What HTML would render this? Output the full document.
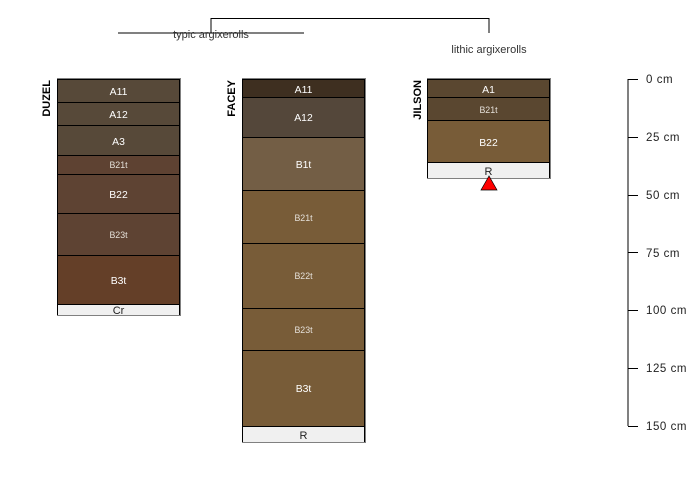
<!DOCTYPE html>
<html>
<head>
<meta charset="utf-8">
<style>
html,body{margin:0;padding:0;background:#fff;width:700px;height:500px;overflow:hidden}
svg{display:block}
text{font-family:"Liberation Sans",sans-serif}
.l{font-size:10.4px;fill:#fff;text-anchor:middle}
.s{font-size:8.8px;fill:#e4dfd8;text-anchor:middle}
.d{font-size:11px;fill:#222;text-anchor:middle}
.n{font-size:11px;font-weight:bold;fill:#000;text-anchor:end}
.a{font-size:11.5px;fill:#222;letter-spacing:.55px}
.t{font-size:11px;fill:#333;text-anchor:middle}
rect{stroke:#000;stroke-width:1;shape-rendering:crispEdges}
.g{fill:none;stroke:#808080;stroke-width:1;shape-rendering:crispEdges}
</style>
</head>
<body>
<svg width="700" height="500" viewBox="0 0 700 500" xmlns="http://www.w3.org/2000/svg">
<rect width="700" height="500" style="fill:#fff;stroke:none"/>

<!-- dendrogram -->
<path d="M211 33V18.5H489V33" fill="none" stroke="#000" stroke-width="1"/>
<path d="M118 33H304" fill="none" stroke="#000" stroke-width="1"/>
<text class="t" x="211" y="38">typic argixerolls</text>
<text class="t" x="489" y="53">lithic argixerolls</text>

<!-- DUZEL -->
<rect x="57.5" y="79.5" width="122" height="23" fill="#574939"/>
<rect x="57.5" y="102.5" width="122" height="23" fill="#574939"/>
<rect x="57.5" y="125.5" width="122" height="30" fill="#574939"/>
<rect x="57.5" y="155.5" width="122" height="19" fill="#5e4232"/>
<rect x="57.5" y="174.5" width="122" height="39" fill="#5e4333"/>
<rect x="57.5" y="213.5" width="122" height="42" fill="#5e4333"/>
<rect x="57.5" y="255.5" width="122" height="49" fill="#643f28"/>
<rect x="57.5" y="304.5" width="122" height="11" fill="#f0f0f0"/>
<path class="g" d="M57 78.5H180.5V315.5H57"/>
<text class="l" x="118.5" y="95">A11</text>
<text class="l" x="118.5" y="118">A12</text>
<text class="l" x="118.5" y="145">A3</text>
<text class="s" x="118.5" y="168">B21t</text>
<text class="l" x="118.5" y="198">B22</text>
<text class="s" x="118.5" y="238">B23t</text>
<text class="l" x="118.5" y="284">B3t</text>
<text class="d" x="118.5" y="314">Cr</text>
<text class="n" transform="translate(50,80) rotate(-90)">DUZEL</text>

<!-- FACEY -->
<rect x="242.5" y="79.5" width="122" height="18" fill="#3e2f20"/>
<rect x="242.5" y="97.5" width="122" height="40" fill="#54473a"/>
<rect x="242.5" y="137.5" width="122" height="53" fill="#735e45"/>
<rect x="242.5" y="190.5" width="122" height="53" fill="#785c38"/>
<rect x="242.5" y="243.5" width="122" height="65" fill="#785c38"/>
<rect x="242.5" y="308.5" width="122" height="42" fill="#785c38"/>
<rect x="242.5" y="350.5" width="122" height="76" fill="#785c38"/>
<rect x="242.5" y="426.5" width="122" height="16" fill="#f0f0f0"/>
<path class="g" d="M242 78.5H365.5V442.5H242"/>
<text class="l" x="303.5" y="93">A11</text>
<text class="l" x="303.5" y="121">A12</text>
<text class="l" x="303.5" y="168">B1t</text>
<text class="s" x="303.5" y="221">B21t</text>
<text class="s" x="303.5" y="279">B22t</text>
<text class="s" x="303.5" y="333">B23t</text>
<text class="l" x="303.5" y="392">B3t</text>
<text class="d" x="303.5" y="439">R</text>
<text class="n" transform="translate(235,80) rotate(-90)">FACEY</text>

<!-- JILSON -->
<rect x="427.5" y="79.5" width="122" height="18" fill="#5a4730"/>
<rect x="427.5" y="97.5" width="122" height="23" fill="#5a4730"/>
<rect x="427.5" y="120.5" width="122" height="42" fill="#785c38"/>
<rect x="427.5" y="162.5" width="122" height="16" fill="#f0f0f0"/>
<path class="g" d="M427 78.5H550.5V178.5H427"/>
<text class="l" x="488.5" y="93">A1</text>
<text class="s" x="488.5" y="113">B21t</text>
<text class="l" x="488.5" y="146">B22</text>
<text class="d" x="488.5" y="175">R</text>
<text class="n" transform="translate(421,80) rotate(-90)">JILSON</text>
<polygon points="489,176 481,190 497,190" fill="#f00" stroke="#000" stroke-width="0.7"/>

<!-- depth axis -->
<path d="M628 79V426" fill="none" stroke="#000" stroke-width="1"/>
<path d="M628 79.5H638M628 137.5H638M628 195.5H638M628 252.5H638M628 310.5H638M628 368.5H638M628 426.5H638" fill="none" stroke="#000" stroke-width="1" shape-rendering="crispEdges"/>
<text class="a" x="646" y="83">0 cm</text>
<text class="a" x="646" y="141">25 cm</text>
<text class="a" x="646" y="199">50 cm</text>
<text class="a" x="646" y="257">75 cm</text>
<text class="a" x="646" y="314">100 cm</text>
<text class="a" x="646" y="372">125 cm</text>
<text class="a" x="646" y="430">150 cm</text>
</svg>
</body>
</html>
